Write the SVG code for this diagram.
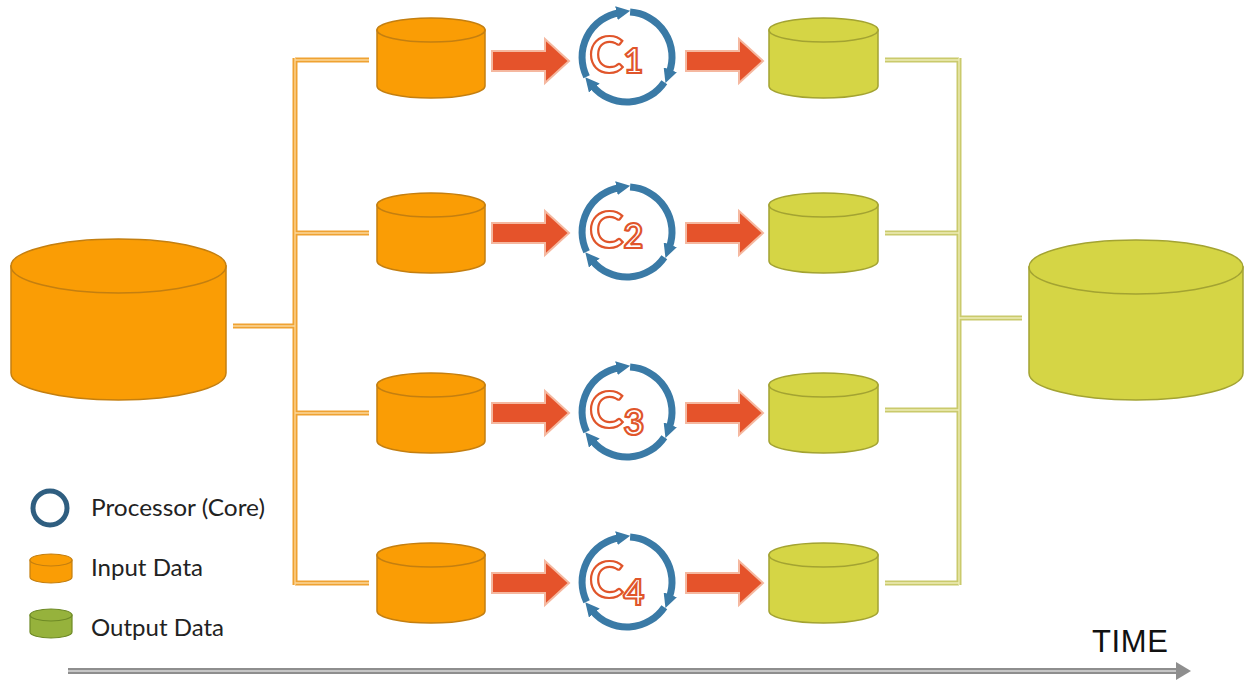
<svg xmlns="http://www.w3.org/2000/svg" width="1246" height="683" viewBox="0 0 1246 683">
<style>
.inCyl{fill:#FA9D05;stroke:#C47F10;stroke-width:1.5}
.outCyl{fill:#D5D545;stroke:#A3A332;stroke-width:1.5}
.oLine{stroke:#EFA232;stroke-width:5;fill:none}
.oCore{stroke:#FCD79A;stroke-width:1.3;fill:none}
.gLine{stroke:#CACA6C;stroke-width:5;fill:none}
.gCore{stroke:#EEEDB8;stroke-width:1.3;fill:none}
.ring{fill:none;stroke:#3A7AA6;stroke-width:7}
.blk{fill:#E5532B;stroke:#F5B8A0;stroke-width:2}
.cl{font-family:Lato,"Open Sans",sans-serif;font-weight:700;fill:#fff;stroke:#E0552B;stroke-width:2.2}
.leg{font-family:Lato,"Open Sans",sans-serif;font-size:23.5px;fill:#222}
</style>
<defs>
<marker id="ah" viewBox="0 0 10 10" refX="2" refY="5" markerWidth="14" markerHeight="14" markerUnits="userSpaceOnUse" orient="auto">
<path d="M0,0 L10,5 L0,10 z" fill="#3A7AA6"/>
</marker>
<g id="ringArcs">
<path class="ring" marker-end="url(#ah)" d="M-40.4,19.7 A45,45 0 0 1 -7.8,-44.3"/>
<path class="ring" marker-end="url(#ah)" d="M3.1,-44.9 A45,45 0 0 1 42.3,15.4"/>
<path class="ring" marker-end="url(#ah)" d="M37.3,25.2 A45,45 0 0 1 -34.5,28.9"/>
</g>
<path id="blockArrow" class="blk" d="M0,-10 L53,-10 L53,-22 L77,0 L53,22 L53,10 L0,10 Z"/>
</defs>
<rect width="1246" height="683" fill="#fff"/>

<g id="connectors">
<path class="oLine" d="M233,326 H295 M295,58 V585 M295,60 H369 M295,233 H369 M295,413 H369 M295,583 H369"/>
<path class="oCore" d="M233,326 H295 M295,58 V585 M295,60 H369 M295,233 H369 M295,413 H369 M295,583 H369"/>
<path class="gLine" d="M885,60 H959 M885,233 H959 M885,410 H959 M885,583 H959 M959,58 V585 M959,318 H1022"/>
<path class="gCore" d="M885,60 H959 M885,233 H959 M885,410 H959 M885,583 H959 M959,58 V585 M959,318 H1022"/>
<use href="#blockArrow" x="492" y="61"/>
<use href="#blockArrow" x="686" y="61"/>
<use href="#blockArrow" x="492" y="233"/>
<use href="#blockArrow" x="686" y="233"/>
<use href="#blockArrow" x="492" y="413"/>
<use href="#blockArrow" x="686" y="413"/>
<use href="#blockArrow" x="492" y="583"/>
<use href="#blockArrow" x="686" y="583"/>
</g>

<g id="bigInput">
<path class="inCyl" d="M11,266 V373 A107.5,27 0 0 0 226,373 V266 Z"/>
<ellipse class="inCyl" cx="118.5" cy="266" rx="107.5" ry="27"/>
</g>
<g id="bigOutput">
<path class="outCyl" d="M1029,267 V373 A107,27 0 0 0 1243,373 V267 Z"/>
<ellipse class="outCyl" cx="1136" cy="267" rx="107" ry="27"/>
</g>

<g id="in1"><path class="inCyl" d="M377,30 V86 A54,12 0 0 0 485,86 V30 Z"/><ellipse class="inCyl" cx="431" cy="30" rx="54" ry="12"/></g>
<g id="in2"><path class="inCyl" d="M377,205 V261 A54,12 0 0 0 485,261 V205 Z"/><ellipse class="inCyl" cx="431" cy="205" rx="54" ry="12"/></g>
<g id="in3"><path class="inCyl" d="M377,385 V441 A54,12 0 0 0 485,441 V385 Z"/><ellipse class="inCyl" cx="431" cy="385" rx="54" ry="12"/></g>
<g id="in4"><path class="inCyl" d="M377,555 V611 A54,12 0 0 0 485,611 V555 Z"/><ellipse class="inCyl" cx="431" cy="555" rx="54" ry="12"/></g>

<g id="out1"><path class="outCyl" d="M769,30 V86 A54.5,12 0 0 0 878,86 V30 Z"/><ellipse class="outCyl" cx="823.5" cy="30" rx="54.5" ry="12"/></g>
<g id="out2"><path class="outCyl" d="M769,205 V261 A54.5,12 0 0 0 878,261 V205 Z"/><ellipse class="outCyl" cx="823.5" cy="205" rx="54.5" ry="12"/></g>
<g id="out3"><path class="outCyl" d="M769,385 V441 A54.5,12 0 0 0 878,441 V385 Z"/><ellipse class="outCyl" cx="823.5" cy="385" rx="54.5" ry="12"/></g>
<g id="out4"><path class="outCyl" d="M769,555 V611 A54.5,12 0 0 0 878,611 V555 Z"/><ellipse class="outCyl" cx="823.5" cy="555" rx="54.5" ry="12"/></g>

<g id="core1"><use href="#ringArcs" transform="translate(627,57)"/><text class="cl" x="589" y="73"><tspan font-size="52">C</tspan><tspan font-size="34">1</tspan></text></g>
<g id="core2"><use href="#ringArcs" transform="translate(627,232)"/><text class="cl" x="589" y="248"><tspan font-size="52">C</tspan><tspan font-size="34">2</tspan></text></g>
<g id="core3"><use href="#ringArcs" transform="translate(627,412)"/><text class="cl" x="589" y="428"><tspan font-size="52">C</tspan><tspan font-size="36" dy="7">3</tspan></text></g>
<g id="core4"><use href="#ringArcs" transform="translate(627,582)"/><text class="cl" x="589" y="598"><tspan font-size="52">C</tspan><tspan font-size="36" dy="7">4</tspan></text></g>

<g id="legend">
<circle cx="50" cy="508" r="17" fill="none" stroke="#2F5E80" stroke-width="5"/>
<text class="leg" x="91" y="516" textLength="174" lengthAdjust="spacingAndGlyphs">Processor (Core)</text>
<path d="M30,560 V577 A21,6 0 0 0 72,577 V560 Z" fill="#FA9D05" stroke="#C47F10" stroke-width="1.2"/>
<ellipse cx="51" cy="560" rx="21" ry="6" fill="#FA9D05" stroke="#C47F10" stroke-width="1.2"/>
<text class="leg" x="91" y="576" textLength="112" lengthAdjust="spacingAndGlyphs">Input Data</text>
<path d="M30,615 V632 A21,6 0 0 0 72,632 V615 Z" fill="#96B23C" stroke="#6E8A26" stroke-width="1.2"/>
<ellipse cx="51" cy="615" rx="21" ry="6" fill="#96B23C" stroke="#6E8A26" stroke-width="1.2"/>
<text class="leg" x="91" y="636" textLength="133" lengthAdjust="spacingAndGlyphs">Output Data</text>
</g>

<g id="timeAxis">
<text x="1092" y="652" font-family="Liberation Sans, Arial, sans-serif" font-size="31" fill="#111" textLength="76">TIME</text>
<line x1="68" y1="671" x2="1178" y2="671" stroke="#8E8E8E" stroke-width="6"/>
<line x1="68" y1="671" x2="1178" y2="671" stroke="#D8D8D8" stroke-width="1.5"/>
<path d="M1176,662 L1191,671 L1176,680 Z" fill="#8E8E8E"/>
</g>
</svg>
